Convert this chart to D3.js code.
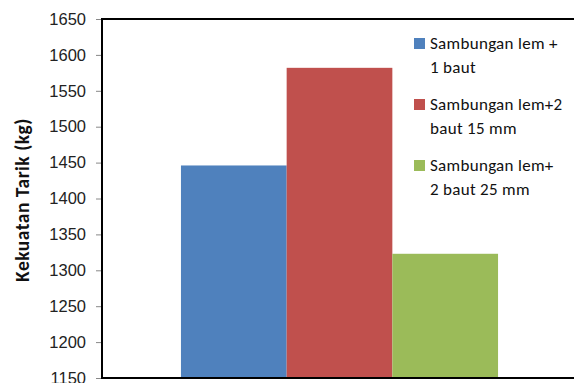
<!DOCTYPE html>
<html>
<head>
<meta charset="utf-8">
<script src="https://cdn.jsdelivr.net/npm/d3@7/dist/d3.min.js"></script>
<style>
  html, body { margin: 0; padding: 0; background: #fff; }
  svg { display: block; font-family: Carlito, Calibri, Lato, "Open Sans", sans-serif; }
</style>
</head>
<body>
<div id="chart"></div>
<script>
// Data
const categories = ["Kekuatan Tarik"];
const seriesNames = [
    ["Sambungan lem +", "1 baut"],
    ["Sambungan lem+2", "baut 15 mm"],
    ["Sambungan lem+", "2 baut 25 mm"]
];
const seriesValues = [1446, 1582, 1323];
const seriesColors = ["#4f81bd", "#c0504d", "#9bbb59"];
const yTicks = [1150, 1200, 1250, 1300, 1350, 1400, 1450, 1500, 1550, 1600, 1650];

const width = 574, height = 383;
const margin = { top: 19, right: -3, bottom: 5, left: 102 };

const svg = d3.select("#chart").append("svg")
    .attr("width", width)
    .attr("height", height);

// Scales
const y = d3.scaleLinear()
    .domain([1150, 1650])
    .range([height - margin.bottom, margin.top]);

const x0 = d3.scaleBand()
    .domain(categories)
    .range([margin.left, width - margin.right])
    .paddingOuter(0.249)
    .paddingInner(0);

const x1 = d3.scaleBand()
    .domain(d3.range(seriesValues.length))
    .range([0, x0.bandwidth()]);

// Bars
const g = svg.append("g").attr("transform", `translate(${x0(categories[0])},0)`);
g.selectAll("rect")
    .data(seriesValues)
    .join("rect")
    .attr("x", (d, i) => x1(i))
    .attr("y", d => y(d))
    .attr("width", x1.bandwidth())
    .attr("height", d => y(1150) - y(d))
    .attr("fill", (d, i) => seriesColors[i]);

// Y axis
const yAxis = d3.axisLeft(y).tickValues(yTicks).tickFormat(d3.format("d")).tickSize(6).tickPadding(10);
const ya = svg.append("g")
    .attr("transform", `translate(${margin.left},0)`)
    .call(yAxis);
ya.select(".domain").remove();
ya.selectAll(".tick line").attr("stroke", "#888");
ya.selectAll(".tick text")
    .attr("fill", "#222")
    .style("font-size", "16.5px");

// Frame lines: left, top, bottom
svg.append("line")
    .attr("x1", margin.left).attr("x2", margin.left)
    .attr("y1", y(1650)).attr("y2", y(1150))
    .attr("stroke", "#000").attr("stroke-width", 2);
svg.append("line")
    .attr("x1", margin.left - 1).attr("x2", width)
    .attr("y1", y(1650)).attr("y2", y(1650))
    .attr("stroke", "#000").attr("stroke-width", 2);
svg.append("line")
    .attr("x1", margin.left - 1).attr("x2", width)
    .attr("y1", y(1150)).attr("y2", y(1150))
    .attr("stroke", "#000").attr("stroke-width", 2);

// Y axis title
svg.append("text")
    .attr("transform", `translate(29,200) rotate(-90)`)
    .attr("text-anchor", "middle")
    .style("font-size", "19.5px")
    .style("font-weight", "bold")
    .style("letter-spacing", "0.5px")
    .attr("fill", "#111")
    .text("Kekuatan Tarik (kg)");

// Legend
const legend = svg.append("g").attr("transform", "translate(414,0)");
const legendTop = [43, 104, 165];
seriesNames.forEach((lines, i) => {
    const item = legend.append("g").attr("transform", `translate(0,${legendTop[i]})`);
    item.append("rect")
        .attr("x", 0).attr("y", -5)
        .attr("width", 11).attr("height", 11)
        .attr("fill", seriesColors[i]);
    lines.forEach((t, j) => {
        item.append("text")
            .attr("x", 16)
            .attr("y", j * 24)
            .attr("dy", "0.35em")
            .style("font-size", "17px")
            .style("letter-spacing", "0.3px")
            .attr("fill", "#111")
            .text(t);
    });
});
</script>
</body>
</html>
